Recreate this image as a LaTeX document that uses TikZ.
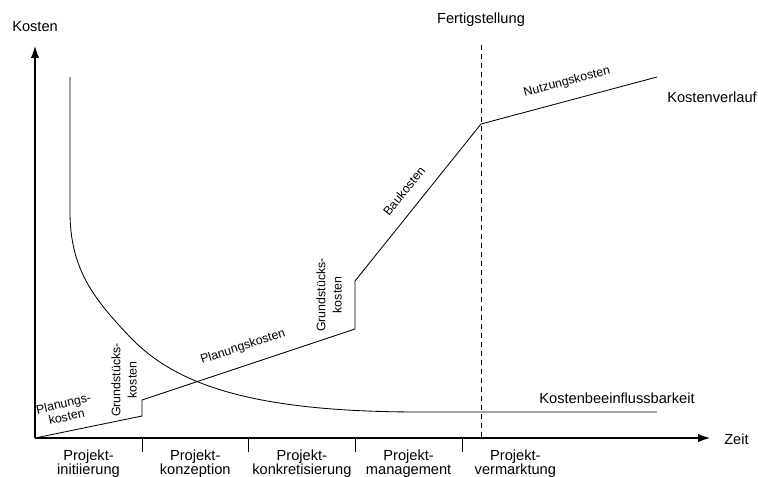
\documentclass[tikz,border=0pt]{standalone}
\usepackage{fontspec}
\setmainfont{Liberation Sans}
\usetikzlibrary{arrows.meta,positioning}

\begin{document}
\begin{tikzpicture}[x=0.025cm,y=-0.025cm,node distance = 2.667cm,
  axis/.style={line width=0.8pt,-{Latex[length=8.5pt,width=6pt]}},
  kurve/.style={line width=0.6pt},
  gross/.style={font=\fontsize{10.4}{9.8}\selectfont,inner sep=0pt},
  phase/.style={gross,align=center},
  klein/.style={font=\fontsize{8.8}{9.6}\selectfont,align=center,inner sep=0pt},
  senkrecht/.style={klein,font=\fontsize{8.8}{11.5}\selectfont,rotate=90}]
\useasboundingbox (0,0) rectangle (758,476);

\coordinate (o) at (35,438);
\coordinate (ytop) at (35,46);
\coordinate (xend) at (710,438);
\draw[axis] (o) -- (ytop);
\draw[axis] (o) -- (xend);
\node[gross,anchor=west] (kosten) at (12,27) {Kosten};
\node[gross,anchor=west] (zeit) at (724,439) {Zeit};

\foreach \x in {142,248,355,462}
  \draw[kurve] (\x,438) -- ++(0,14);

\node[phase] (p1) at (88.5,464) {Projekt-\\initiierung};
\node[phase] (p2) [right of = p1] {Projekt-\\konzeption};
\node[phase] (p3) [right of = p2] {Projekt-\\konkretisierung};
\node[phase] (p4) [right of = p3] {Projekt-\\management};
\node[phase] (p5) [right of = p4] {Projekt-\\vermarktung};

\coordinate (k1) at (142,416);
\coordinate (k2) at (142,400);
\coordinate (k3) at (355,329);
\coordinate (k4) at (355,281);
\coordinate (k5) at (481,124);
\coordinate (k6) at (657,77);
\draw[kurve] (o) -- (k1) -- (k2) -- (k3) -- (k4) -- (k5) -- (k6);

\coordinate (f0) at (481,45);
\coordinate (f1) at (481,438);
\draw[kurve,dash pattern=on 3.6pt off 2.8pt] (f0) -- (f1);
\node[gross] (fertig) at (481,20) {Fertigstellung};

\coordinate (b0) at (70,77);
\coordinate (b1) at (70,212);
\coordinate (b2) at (130,337);
\coordinate (b3) at (420,412);
\coordinate (b4) at (657,412);
\draw[kurve] (b0) -- (b1) .. controls (70,270) and (95,300) .. (b2)
  .. controls (175,384) and (250,412) .. (b3) -- (b4);

\node[klein,rotate=13] (plan1) at (65,410) {Planungs-\\kosten};
\node[senkrecht] (grund1) at (124,380) {Grundstücks-\\kosten};
\node[klein,rotate=18] (plan2) at (243,347) {Planungskosten};
\node[senkrecht] (grund2) at (329,295) {Grundstücks-\\kosten};
\node[klein,rotate=51] (bau) at (404,191) {Baukosten};
\node[klein,rotate=15] (nutzung) at (567,82) {Nutzungskosten};
\node[gross,anchor=west] (verlauf) at (667,97) {Kostenverlauf};
\node[gross] (beeinfl) at (617,398) {Kostenbeeinflussbarkeit};
\end{tikzpicture}
\end{document}
